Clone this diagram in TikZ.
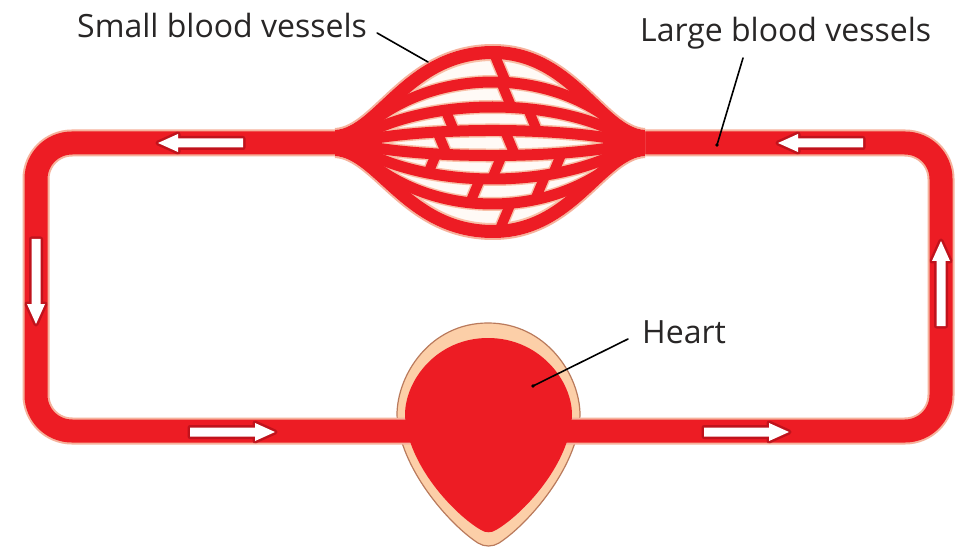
\documentclass[tikz,border=0pt]{standalone}
\usepackage{fontspec}
\setmainfont{Open Sans}
\definecolor{vesselred}{RGB}{237,28,36}
\definecolor{tubeedge}{RGB}{246,178,156}
\definecolor{strandedge}{RGB}{248,192,168}
\definecolor{holefill}{RGB}{255,250,246}
\definecolor{heartwall}{RGB}{252,207,168}
\definecolor{heartline}{RGB}{186,122,92}
\definecolor{arrowshade}{RGB}{178,16,26}
\definecolor{labelgray}{RGB}{40,38,38}

% outline of the capillary bed between the two halves of the upper vessel
\def\lenstop{(335,130) .. controls (375,128) and (405,46) .. (493,46)
  .. controls (575,46) and (605,128) .. (645,130)}
\def\lensbottom{(645,156) .. controls (605,158) and (575,238) .. (493,238)
  .. controls (405,238) and (375,158) .. (335,156)}
\def\lenspath{(335,130) .. controls (375,128) and (405,46) .. (493,46)
  .. controls (575,46) and (605,128) .. (645,130) -- (645,156)
  .. controls (605,158) and (575,238) .. (493,238)
  .. controls (405,238) and (375,158) .. (335,156) -- cycle}

\tikzset{
  labeltext/.style={font=\fontsize{32}{38}\selectfont, text=labelgray, inner sep=0pt},
  leader/.style={draw=black, line width=1.6pt, line cap=round},
  strand/.style={line width=11pt},
  strandrim/.style={line width=14pt, strandedge},
  flowarrow/.pic={
    \draw[arrowshade, line width=5pt, line join=round, opacity=0.75]
      (0,-4.5) -- (65,-4.5) -- (65,-9) -- (85,0) -- (65,9) -- (65,4.5) -- (0,4.5) -- cycle;
    \fill[white]
      (0,-4.5) -- (65,-4.5) -- (65,-9) -- (85,0) -- (65,9) -- (65,4.5) -- (0,4.5) -- cycle;
  }
}

\begin{document}
\begin{tikzpicture}[x=1pt,y=-1pt]
\fill[white] (0,0) rectangle (964,548);
\useasboundingbox (0,0) rectangle (964,548);

% heart wall
\filldraw[fill=heartwall, draw=heartline, line width=1.2pt]
  (488,323) .. controls (430,323) and (397,375) .. (397,415)
  .. controls (399,468) and (450,525) .. (478,543)
  .. controls (484,547) and (493,547) .. (499,543)
  .. controls (527,525) and (578,468) .. (580,415)
  .. controls (580,375) and (546,323) .. (488,323) -- cycle;

% closed circulation loop
\draw[tubeedge, line width=27pt, rounded corners=36pt] (36,143) rectangle (941,431);
\draw[vesselred, line width=23pt, rounded corners=36pt] (36,143) rectangle (941,431);

% heart chamber
\fill[vesselred]
  (488,338) .. controls (437,338) and (405,380) .. (405,415)
  .. controls (407,465) and (455,515) .. (481,530)
  .. controls (485,533) and (492,533) .. (496,530)
  .. controls (522,515) and (570,465) .. (572,415)
  .. controls (572,380) and (539,338) .. (488,338) -- cycle;

% capillary bed: soft outer edge
\draw[tubeedge, line width=4pt] \lenstop;
\draw[tubeedge, line width=4pt] \lensbottom;

% capillary bed: network of fine vessels
\begin{scope}
  \clip \lenspath;
  \fill[holefill] \lenspath;
  % pale rims first, red vessels on top
  \foreach \c in {61.7,95,126.3,159.7,191,224.3}
    \draw[strandrim] (350,143) .. controls (420,\c) and (565,\c) .. (635,143);
  \foreach \x/\y/\s in {500/68/1, 506/94/1, 450/121/1, 533/121/1, 442/143/1, 510/143/1,
                        432/164/-1, 497/167/-1, 558/162/-1, 475/191/-1, 540/188/-1, 505/217/-1}
    \draw[strandrim, line width=13pt] ({\x-5*\s},\y-12) -- ({\x+5*\s},\y+12);
  \draw[strandedge, line width=30pt] \lenstop;
  \draw[strandedge, line width=30pt] \lensbottom;
  \foreach \c in {61.7,95,126.3,159.7,191,224.3}
    \draw[strand, vesselred] (350,143) .. controls (420,\c) and (565,\c) .. (635,143);
  \foreach \x/\y/\s in {500/68/1, 506/94/1, 450/121/1, 533/121/1, 442/143/1, 510/143/1,
                        432/164/-1, 497/167/-1, 558/162/-1, 475/191/-1, 540/188/-1, 505/217/-1}
    \draw[vesselred, line width=10pt] ({\x-5*\s},\y-12) -- ({\x+5*\s},\y+12);
  \draw[vesselred, line width=26pt] \lenstop;
  \draw[vesselred, line width=26pt] \lensbottom;
  \fill[vesselred] (335,130) rectangle (352,156);
  \fill[vesselred] (633,130) rectangle (645,156);
\end{scope}

% direction of flow
\pic[rotate=180] at (243,143) {flowarrow};
\pic[rotate=180] at (863,143) {flowarrow};
\pic[rotate=-90] at (36,239) {flowarrow};
\pic[rotate=90]  at (941,326) {flowarrow};
\pic at (190,432) {flowarrow};
\pic at (704,432) {flowarrow};

% labels
\node[labeltext, anchor=base west] (small) at (77,38) {Small blood vessels};
\node[labeltext, anchor=base west] (large) at (640,42) {Large blood vessels};
\node[labeltext, anchor=base west] (heart) at (642,343) {Heart};
\coordinate (smalltip) at (428,62);
\coordinate (largetip) at (717,145);
\coordinate (hearttip) at (533,386);
\draw[leader] ([xshift=10pt,yshift=5pt]small.base east) -- (smalltip);
\draw[leader] ([xshift=103pt,yshift=-16pt]large.base west) -- (largetip);
\draw[leader] ([xshift=-14pt,yshift=4pt]heart.base west) -- (hearttip);
\fill (largetip) circle (1.8pt);
\fill (hearttip) circle (1.8pt);
\end{tikzpicture}
\end{document}
